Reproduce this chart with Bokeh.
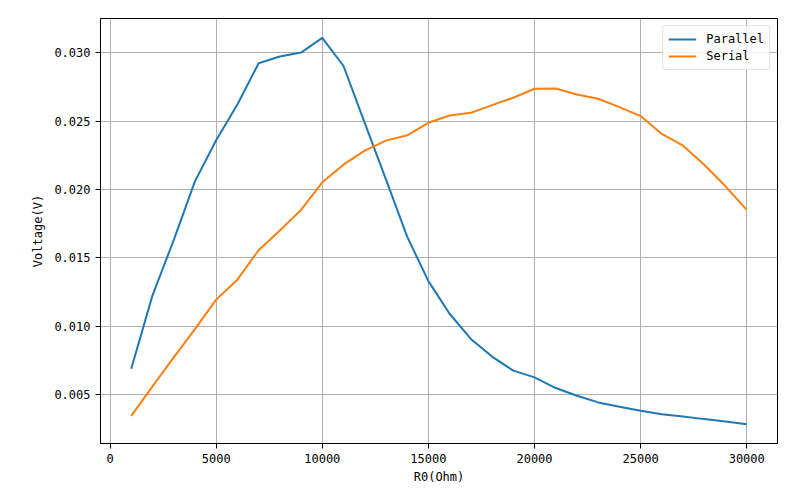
from bokeh.plotting import figure
from bokeh.embed import file_html
from bokeh.resources import INLINE
from bokeh.models import Range1d, FixedTicker, PrintfTickFormatter, Legend, LegendItem

r0 = [1000, 2000, 3000, 4000, 5000, 6000, 7000, 8000, 9000, 10000,
      11000, 12000, 13000, 14000, 15000, 16000, 17000, 18000, 19000, 20000,
      21000, 22000, 23000, 24000, 25000, 26000, 27000, 28000, 29000, 30000]
parallel = [0.00690, 0.01226, 0.01630, 0.02059, 0.02360, 0.02621, 0.02922, 0.02971, 0.03000, 0.03108,
            0.02902, 0.02487, 0.02073, 0.01655, 0.01330, 0.01092, 0.00908, 0.00779, 0.00676, 0.00627,
            0.00549, 0.00493, 0.00444, 0.00412, 0.00383, 0.00358, 0.00341, 0.00322, 0.00304, 0.00285]
serial = [0.00346, 0.00561, 0.00773, 0.00980, 0.01195, 0.01341, 0.01556, 0.01700, 0.01851, 0.02052,
          0.02181, 0.02284, 0.02357, 0.02396, 0.02487, 0.02540, 0.02560, 0.02616, 0.02670, 0.02736,
          0.02738, 0.02694, 0.02663, 0.02602, 0.02536, 0.02406, 0.02320, 0.02181, 0.02023, 0.01851]
x_ticks = [0, 5000, 10000, 15000, 20000, 25000, 30000]
y_ticks = [0.005, 0.010, 0.015, 0.020, 0.025, 0.030]
series_names = ["Parallel", "Serial"]
colors = ["#1f77b4", "#ff7f0e"]

FONT = "DejaVu Sans Mono"

xmin, xmax = min(r0), max(r0)
xm = (xmax - xmin) * 0.05
allv = parallel + serial
ymin, ymax = min(allv), max(allv)
ym = (ymax - ymin) * 0.05

p = figure(width=800, height=500, output_backend="svg", toolbar_location=None,
           x_range=Range1d(xmin - xm, xmax + xm), y_range=Range1d(ymin - ym, ymax + ym),
           min_border_left=100, min_border_right=23, min_border_top=18, min_border_bottom=57)
p.background_fill_color = "white"
p.border_fill_color = "white"
p.outline_line_color = "black"
p.outline_line_width = 1

r1 = p.line(r0, parallel, line_color=colors[0], line_width=2)
r2 = p.line(r0, serial, line_color=colors[1], line_width=2)

p.xaxis.ticker = FixedTicker(ticks=x_ticks)
p.yaxis.ticker = FixedTicker(ticks=y_ticks)
p.yaxis.formatter = PrintfTickFormatter(format="%.3f")
p.xaxis.formatter = PrintfTickFormatter(format="%d")
for ax in (p.xaxis, p.yaxis):
    ax.major_tick_out = 5
    ax.major_tick_in = 0
    ax.minor_tick_out = 0
    ax.minor_tick_in = 0
    ax.major_label_text_font = FONT
    ax.major_label_text_font_size = "12px"
    ax.major_label_text_color = "black"
    ax.axis_label_text_font = FONT
    ax.axis_label_text_font_size = "12px"
    ax.axis_label_text_font_style = "normal"
    ax.axis_label_text_color = "black"
    ax.axis_line_color = "black"
    ax.major_tick_line_color = "black"
p.xaxis.axis_label = "R0(Ohm)"
p.yaxis.axis_label = "Voltage(V)"
p.xaxis.axis_label_standoff = 4
p.yaxis.axis_label_standoff = 6

p.xgrid.grid_line_color = "#b0b0b0"
p.ygrid.grid_line_color = "#b0b0b0"
p.xgrid.grid_line_width = 1
p.ygrid.grid_line_width = 1

legend = Legend(items=[LegendItem(label=series_names[0], renderers=[r1]),
                       LegendItem(label=series_names[1], renderers=[r2])],
                location="top_right")
legend.label_text_font = FONT
legend.label_text_font_size = "12px"
legend.label_text_color = "black"
legend.border_line_color = "#cccccc"
legend.border_line_width = 1
legend.border_radius = 3
legend.margin = 7
legend.padding = 5
legend.spacing = 1
legend.glyph_width = 28
legend.glyph_height = 16
legend.label_height = 16
legend.label_standoff = 10
legend.background_fill_alpha = 0.8
p.add_layout(legend)

open("out.html", "w").write(file_html(p, INLINE))
